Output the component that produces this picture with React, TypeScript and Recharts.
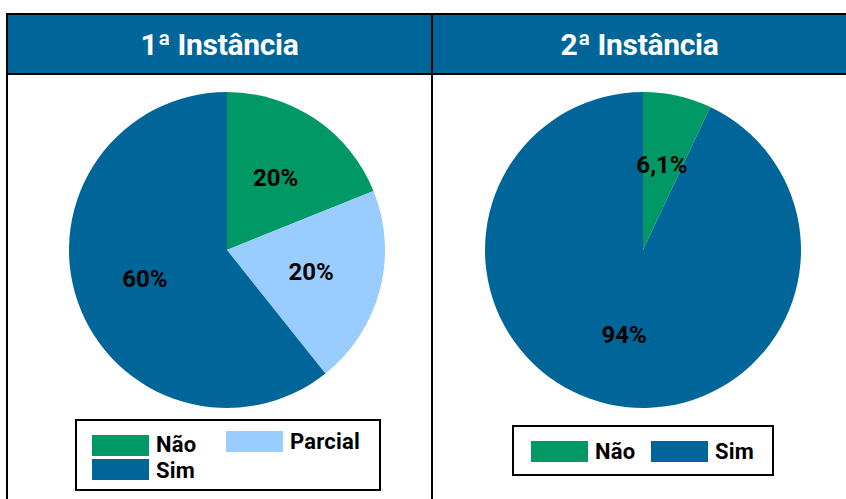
import React from "react";
import { PieChart, Pie, Cell } from "recharts";

const firstNames = ["Não", "Parcial", "Sim"];
const firstValues = [18.9, 20.4, 60.7];
const firstLabels = ["20%", "20%", "60%"];

// 2ª Instância
const secondNames = ["Não", "Sim"];
const secondValues = [7.0, 93.0];
const secondLabels = ["6,1%", "94%"];

const titles = ["1ª Instância", "2ª Instância"];

const colorOf: Record<string, string> = {
  Não: "#009966",
  Parcial: "#99CCFF",
  Sim: "#006699",
};

const FONT = "Roboto, 'Noto Sans', sans-serif";
const RAD = Math.PI / 180;

function makeLabel(labels: string[], factor: number) {
  return (props: any) => {
    const { cx, cy, midAngle, outerRadius, index } = props;
    const r = outerRadius * factor;
    const x = cx + r * Math.cos(-midAngle * RAD);
    const y = cy + r * Math.sin(-midAngle * RAD);
    return (
      <text
        x={x}
        y={y}
        textAnchor="middle"
        dominantBaseline="central"
        fill="#000"
        fontSize={24}
        fontWeight={700}
        fontFamily={FONT}
      >
        {labels[index]}
      </text>
    );
  };
}

function PieCell({
  names,
  values,
  labels,
  cx,
}: {
  names: string[];
  values: number[];
  labels: string[];
  cx: number;
}) {
  const data = names.map((name, i) => ({ name, value: values[i] }));
  return (
    <PieChart width={424} height={423} margin={{ top: 0, right: 0, bottom: 0, left: 0 }}>
      <Pie
        data={data}
        dataKey="value"
        cx={cx}
        cy={174}
        outerRadius={158}
        startAngle={90}
        endAngle={-270}
        stroke="none"
        labelLine={false}
        label={makeLabel(labels, 0.55)}
        isAnimationActive={false}
      >
        {data.map((d) => (
          <Cell key={d.name} fill={colorOf[d.name]} />
        ))}
      </Pie>
    </PieChart>
  );
}

function Swatch({
  name,
  left,
  top,
  shift = 0,
}: {
  name: string;
  left: number;
  top: number;
  shift?: number;
}) {
  return (
    <div style={{ position: "absolute", left, top, display: "flex", alignItems: "center" }}>
      <span
        style={{
          display: "inline-block",
          width: 57,
          height: 21,
          background: colorOf[name],
          marginRight: 7,
        }}
      />
      <span
        style={{
          fontSize: 22,
          fontWeight: 700,
          color: "#000",
          lineHeight: "21px",
          position: "relative",
          top: shift,
          letterSpacing: 0.2,
        }}
      >
        {name}
      </span>
    </div>
  );
}

export default function App() {
  return (
    <div
      style={{
        position: "fixed",
        left: 0,
        top: 0,
        width: 846,
        height: 499,
        background: "#fff",
        overflow: "hidden",
        fontFamily: FONT,
      }}
    >
      {/* table frame */}
      <div
        style={{
          position: "absolute",
          left: 6,
          top: 13,
          width: 850,
          height: 500,
          border: "2px solid #000",
          boxSizing: "border-box",
        }}
      />
      <div
        style={{
          position: "absolute",
          left: 8,
          top: 15,
          width: 840,
          height: 58,
          background: "#006699",
          borderBottom: "2px solid #000",
        }}
      />
      <div
        style={{
          position: "absolute",
          left: 431,
          top: 13,
          width: 2,
          height: 490,
          background: "#000",
        }}
      />
      {titles.map((t, i) => (
        <div
          key={t}
          style={{
            position: "absolute",
            left: i === 0 ? 8 : 433,
            top: 15,
            width: i === 0 ? 423 : 413,
            height: 58,
            display: "flex",
            alignItems: "center",
            justifyContent: "center",
            color: "#fff",
            fontSize: 30,
            fontWeight: 700,
            letterSpacing: -0.3,
          }}
        >
          {t}
        </div>
      ))}

      <div style={{ position: "absolute", left: 8, top: 76 }}>
        <PieCell names={firstNames} values={firstValues} labels={firstLabels} cx={219} />
      </div>
      <div style={{ position: "absolute", left: 433, top: 76 }}>
        <PieCell names={secondNames} values={secondValues} labels={secondLabels} cx={210} />
      </div>

      {/* legend 1 */}
      <div
        style={{
          position: "absolute",
          left: 75,
          top: 419,
          width: 306,
          height: 72,
          border: "2px solid #000",
          boxSizing: "border-box",
        }}
      />
      <Swatch name={firstNames[0]} left={92} top={435} shift={-1} />
      <Swatch name={firstNames[1]} left={226} top={431} />
      <Swatch name={firstNames[2]} left={92} top={459} shift={1} />

      {/* legend 2 */}
      <div
        style={{
          position: "absolute",
          left: 512,
          top: 425,
          width: 262,
          height: 51,
          border: "2px solid #000",
          boxSizing: "border-box",
        }}
      />
      <Swatch name={secondNames[0]} left={531} top={441} />
      <Swatch name={secondNames[1]} left={651} top={441} />
    </div>
  );
}
